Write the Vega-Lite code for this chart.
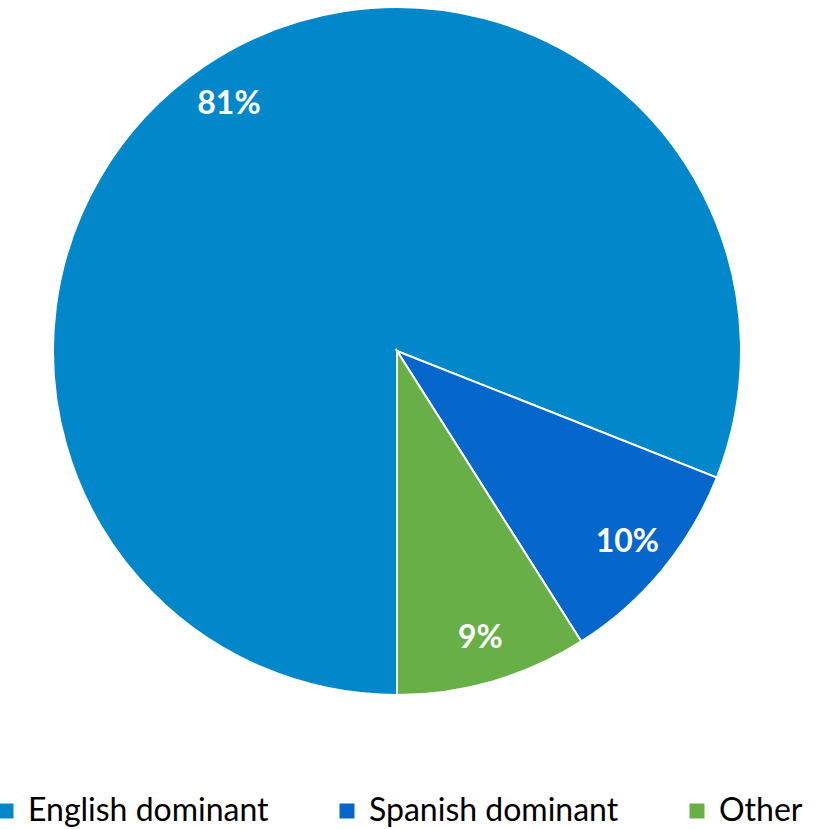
{
  "$schema": "https://vega.github.io/schema/vega-lite/v6.json",
  "width": 814,
  "height": 702,
  "padding": {"left": -10, "top": 0, "right": 0, "bottom": 0},
  "autosize": {"type": "pad"},
  "background": "white",
  "config": {"view": {"stroke": null}},
  "data": {
    "values": [
      {"group": "English dominant", "pct": 0.81},
      {"group": "Spanish dominant", "pct": 0.10},
      {"group": "Other", "pct": 0.09}
    ]
  },
  "encoding": {
    "theta": {"field": "pct", "type": "quantitative", "stack": true, "scale": {"range": [3.14159265, 9.42477796]}},
    "color": {
      "field": "group",
      "type": "nominal",
      "sort": ["English dominant", "Spanish dominant", "Other"],
      "scale": {"domain": ["English dominant", "Spanish dominant", "Other"], "range": ["#0288CA", "#0566CC", "#68AF48"]},
      "legend": {
        "title": null,
        "orient": "none",
        "legendX": 0,
        "legendY": 795,
        "padding": 0,
        "direction": "horizontal",
        "symbolType": "square",
        "symbolSize": 225,
        "symbolStrokeWidth": 0,
        "labelFont": "Lato",
        "labelFontSize": 32,
        "labelColor": "#000000",
        "labelOffset": 6,
        "labelLimit": 400,
        "columnPadding": 62
      }
    },
    "order": {"field": "pct", "sort": "descending"}
  },
  "layer": [
    {"mark": {"type": "arc", "outerRadius": 344, "stroke": "white", "strokeWidth": 2}},
    {
      "mark": {"type": "text", "radius": 299, "baseline": "middle", "font": "Lato", "fontSize": 32, "fontWeight": "bold", "fill": "white"},
      "encoding": {"text": {"field": "pct", "type": "quantitative", "format": ".0%"}, "color": {"value": "white"}}
    }
  ]
}
